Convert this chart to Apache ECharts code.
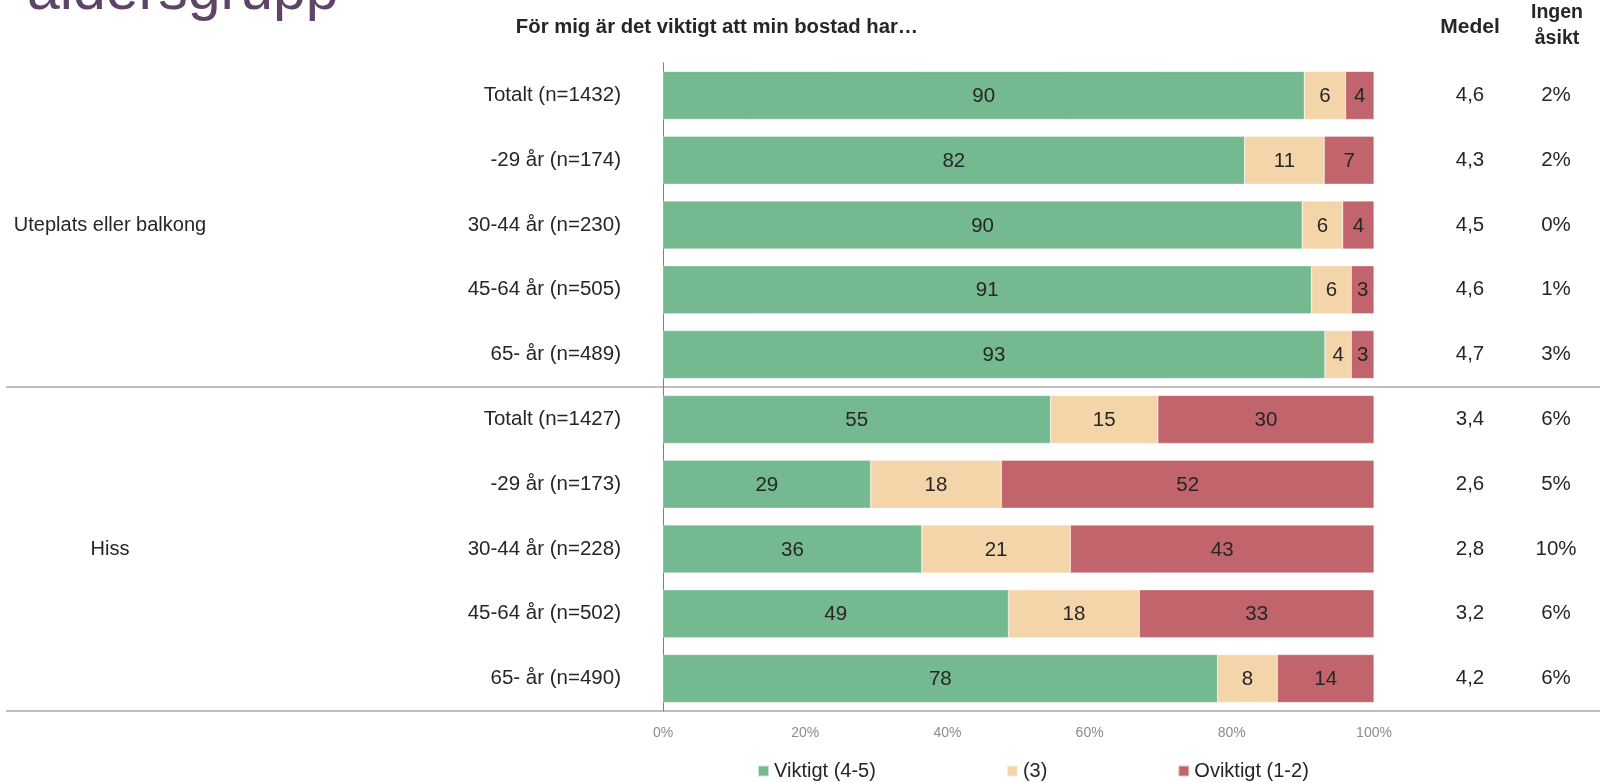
<!DOCTYPE html>
<html>
<head>
<meta charset="utf-8">
<script src="https://cdn.jsdelivr.net/npm/echarts@6/dist/echarts.min.js"></script>
<style>
html,body{margin:0;padding:0;background:#fff;}
#chart{width:1600px;height:783px;}
</style>
</head>
<body>
<div id="chart"></div>
<script>
const categories = ['Totalt (n=1432)','-29 år (n=174)','30-44 år (n=230)','45-64 år (n=505)','65- år (n=489)',
                    'Totalt (n=1427)','-29 år (n=173)','30-44 år (n=228)','45-64 år (n=502)','65- år (n=490)'];
const groups = ['Uteplats eller balkong','Hiss'];
const viktigt  = [90.2, 81.8, 89.9, 91.2, 93.1, 54.5, 29.2, 36.4, 48.6, 78.0];
const neutral  = [ 5.8, 11.2,  5.7,  5.6,  3.7, 15.1, 18.4, 20.9, 18.4,  8.4];
const oviktigt = [ 4.0,  7.0,  4.4,  3.2,  3.2, 30.4, 52.4, 42.7, 33.0, 13.6];
const medel = ['4,6','4,3','4,5','4,6','4,7','3,4','2,6','2,8','3,2','4,2'];
const ingenAsikt = ['2%','2%','0%','1%','3%','6%','5%','10%','6%','6%'];
const seriesNames = ['Viktigt (4-5)','(3)','Oviktigt (1-2)'];
const title = 'För mig är det viktigt att min bostad har…';

const FONT = '"Liberation Sans", Arial, sans-serif';
const TXT = '#262626';
const FS = 20.5;
const colors = ['#75B990','#F4D5A9','#C1646C'];

const chart = echarts.init(document.getElementById('chart'), null, {renderer:'canvas'});

function barSeries(name, data, color){
  return {
    name, type:'bar', stack:'total', data,
    xAxisIndex:0, yAxisIndex:0, barWidth:48,
    itemStyle:{color, borderColor:'rgba(255,255,255,0.6)', borderWidth:0.5},
    label:{show:true, position:'inside', fontFamily:FONT, fontSize:FS, color:TXT, offset:[0,1],
           formatter:p=>Math.round(p.value)},
    emphasis:{disabled:true}, animation:false
  };
}

const option = {
  backgroundColor:'#fff',
  animation:false,
  textStyle:{fontFamily:FONT},
  grid:[
    {left:663, right:226, top:63, bottom:72},
    {left:6, right:0, top:63, bottom:72}
  ],
  xAxis:[
    {gridIndex:0, type:'value', min:0, max:100, interval:20,
     axisLine:{show:false}, axisTick:{show:false}, splitLine:{show:false},
     axisLabel:{formatter:'{value}%', color:'#8c8c8c', fontSize:14, fontFamily:FONT, margin:15}},
    {gridIndex:1, type:'value', min:0, max:1, show:false}
  ],
  yAxis:[
    {gridIndex:0, type:'category', data:categories, inverse:true, position:'left',
     axisLine:{show:true, lineStyle:{color:'#7f7f7f', width:1}},
     axisTick:{show:false}, splitLine:{show:false},
     axisLabel:{fontSize:FS, color:TXT, fontFamily:FONT, margin:42, padding:[2,0,0,0]}},
    {gridIndex:0, type:'category', data:groups, inverse:true, position:'left',
     axisLine:{show:false}, axisTick:{show:false}, splitLine:{show:false},
     axisLabel:{fontSize:20, color:TXT, fontFamily:FONT, margin:553, align:'center', padding:[2,0,0,0]}},
    {gridIndex:0, type:'category', data:medel, inverse:true, position:'right',
     axisLine:{show:false}, axisTick:{show:false}, splitLine:{show:false},
     axisLabel:{fontSize:FS, color:TXT, fontFamily:FONT, margin:96, align:'center', padding:[2,0,0,0]}},
    {gridIndex:0, type:'category', data:ingenAsikt, inverse:true, position:'right',
     axisLine:{show:false}, axisTick:{show:false}, splitLine:{show:false},
     axisLabel:{fontSize:FS, color:TXT, fontFamily:FONT, margin:182, align:'center', padding:[2,0,0,0]}},
    {gridIndex:1, type:'value', min:0, max:groups.length, interval:1,
     axisLine:{show:false}, axisTick:{show:false}, axisLabel:{show:false},
     splitLine:{show:true, showMinLine:true, showMaxLine:false, lineStyle:{color:'#bfbfbf', width:2}}}
  ],
  legend:{
    data:seriesNames, left:752, top:756, itemWidth:11, itemHeight:11, itemGap:130,
    icon:'rect', textStyle:{fontSize:20, color:TXT, fontFamily:FONT}, selectedMode:false
  },
  graphic:[
    {type:'text', left:27, top:-37, z:10,
     style:{text:'åldersgrupp', font:'59px "Liberation Sans", Arial, sans-serif', fill:'#5e4466'}},
    {type:'text', x:717, y:27.5, z:10,
     style:{text:title, font:'bold 20.3px "Liberation Sans", Arial, sans-serif', fill:TXT, align:'center', verticalAlign:'middle'}},
    {type:'text', x:1470, y:27, z:10,
     style:{text:'Medel', font:'bold 21px "Liberation Sans", Arial, sans-serif', fill:TXT, align:'center', verticalAlign:'middle'}},
    {type:'text', x:1557, y:26, z:10,
     style:{text:'Ingen\nåsikt', font:'bold 19.5px "Liberation Sans", Arial, sans-serif', fill:TXT, align:'center', verticalAlign:'middle', lineHeight:26}}
  ],
  series:[
    barSeries(seriesNames[0], viktigt, colors[0]),
    barSeries(seriesNames[1], neutral, colors[1]),
    barSeries(seriesNames[2], oviktigt, colors[2])
  ]
};
chart.setOption(option);
</script>
</body>
</html>
